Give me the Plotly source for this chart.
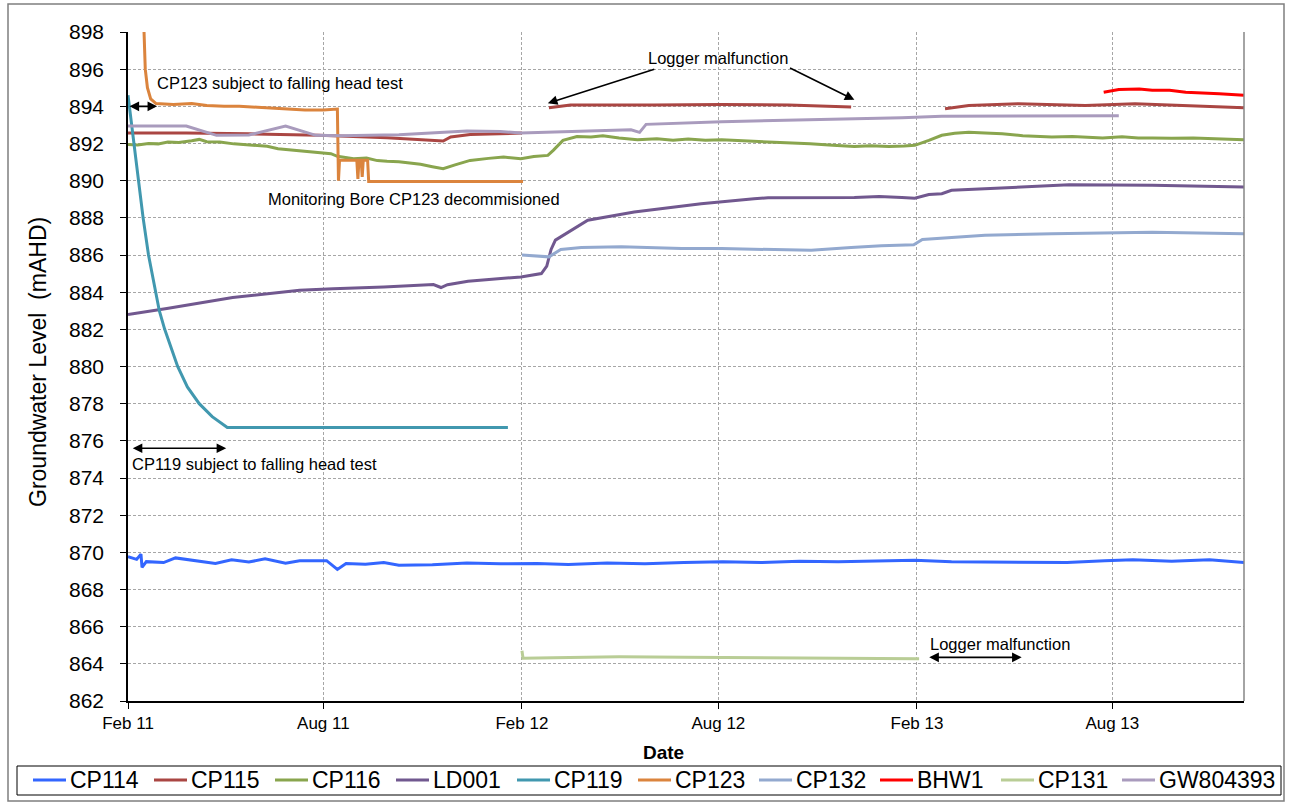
import plotly.graph_objects as go

# ---- Groundwater level records (mAHD) ----
cp114_dates = ["2011-02-01", "2011-02-09", "2011-02-13", "2011-02-14", "2011-02-18", "2011-03-06",
               "2011-03-17", "2011-04-08", "2011-04-23", "2011-05-08", "2011-05-24", "2011-06-08",
               "2011-06-27", "2011-07-10", "2011-08-04", "2011-08-14", "2011-08-22", "2011-09-09",
               "2011-09-26", "2011-10-10", "2011-11-10", "2011-12-12", "2012-01-12", "2012-02-15",
               "2012-03-15", "2012-04-20", "2012-05-25", "2012-06-30", "2012-08-05", "2012-09-10",
               "2012-10-15", "2012-11-20", "2012-12-25", "2013-01-30", "2013-03-05", "2013-04-10",
               "2013-05-15", "2013-06-20", "2013-07-25", "2013-08-20", "2013-09-25", "2013-10-30",
               "2013-12-01"]
cp114_level = [869.76, 869.62, 869.90, 869.19, 869.50, 869.45,
               869.70, 869.50, 869.40, 869.60, 869.48, 869.65,
               869.42, 869.55, 869.55, 869.08, 869.40, 869.36,
               869.45, 869.30, 869.33, 869.42, 869.38, 869.40,
               869.35, 869.42, 869.38, 869.45, 869.50, 869.45,
               869.52, 869.50, 869.55, 869.58, 869.50, 869.48,
               869.50, 869.45, 869.55, 869.60, 869.52, 869.60,
               869.45]

cp115_dates = ["2011-02-01", "2011-03-27", "2011-05-24", "2011-07-28", "2011-09-29", "2011-10-30",
               "2011-11-20", "2011-11-27", "2011-12-15", "2012-02-01",
               "2012-02-10",
               "2012-02-26", "2012-03-17", "2012-06-02", "2012-08-04", "2012-10-05", "2012-12-02",
               "2013-01-15",
               "2013-02-27", "2013-03-21", "2013-05-06", "2013-07-07", "2013-08-22", "2013-10-08",
               "2013-12-01"]
cp115_level = [892.56, 892.57, 892.52, 892.45, 892.31, 892.22,
               892.13, 892.35, 892.49, 892.56,
               None,
               893.92, 894.07, 894.07, 894.10, 894.07, 893.96,
               None,
               893.87, 894.05, 894.14, 894.05, 894.14, 894.03,
               893.93]

cp116_dates = ["2011-02-01", "2011-02-10", "2011-02-20", "2011-03-01", "2011-03-10", "2011-03-20",
               "2011-04-01", "2011-04-08", "2011-04-15", "2011-04-27", "2011-05-10", "2011-05-28",
               "2011-06-10", "2011-06-20", "2011-06-28", "2011-07-10", "2011-07-20", "2011-07-29",
               "2011-08-08", "2011-08-14", "2011-08-22", "2011-08-29", "2011-09-10", "2011-09-20",
               "2011-09-29", "2011-10-10", "2011-10-20", "2011-10-30", "2011-11-10", "2011-11-20",
               "2011-12-01", "2011-12-15", "2012-01-01", "2012-01-15", "2012-01-31", "2012-02-12",
               "2012-02-25", "2012-03-01", "2012-03-10", "2012-03-23", "2012-04-05", "2012-04-16",
               "2012-05-01", "2012-05-18", "2012-06-05", "2012-06-20", "2012-07-04", "2012-07-20",
               "2012-08-04", "2012-08-25", "2012-09-15", "2012-10-05", "2012-10-25", "2012-11-15",
               "2012-12-05", "2012-12-20", "2013-01-06", "2013-01-20", "2013-01-30", "2013-02-12",
               "2013-02-24", "2013-03-08", "2013-03-21", "2013-04-05", "2013-04-21", "2013-05-10",
               "2013-05-25", "2013-06-06", "2013-06-25", "2013-07-10", "2013-07-23", "2013-08-10",
               "2013-08-25", "2013-09-07", "2013-09-25", "2013-10-15", "2013-11-05", "2013-12-01"]
cp116_level = [891.95, 891.92, 892.00, 891.98, 892.08, 892.05,
               892.15, 892.22, 892.10, 892.08, 891.98, 891.90,
               891.85, 891.72, 891.67, 891.62, 891.55, 891.49,
               891.45, 891.31, 891.25, 891.18, 891.22, 891.08,
               891.04, 891.02, 890.95, 890.88, 890.75, 890.64,
               890.85, 891.09, 891.20, 891.27, 891.18, 891.30,
               891.36, 891.63, 892.17, 892.38, 892.35, 892.42,
               892.30, 892.20, 892.25, 892.18, 892.24, 892.18,
               892.20, 892.15, 892.08, 892.02, 891.98, 891.90,
               891.84, 891.88, 891.84, 891.86, 891.90, 892.17,
               892.44, 892.55, 892.61, 892.56, 892.52, 892.42,
               892.38, 892.35, 892.38, 892.32, 892.30, 892.36,
               892.30, 892.30, 892.28, 892.30, 892.25, 892.20]

ld001_dates = ["2011-02-01", "2011-03-09", "2011-05-09", "2011-07-10", "2011-08-10", "2011-09-26",
               "2011-11-11", "2011-11-18", "2011-11-24", "2011-12-13", "2012-01-31", "2012-02-19",
               "2012-02-24", "2012-02-28", "2012-03-03", "2012-03-17", "2012-04-02", "2012-05-15",
               "2012-07-16", "2012-09-03", "2012-09-16", "2012-12-05", "2012-12-28", "2013-01-18",
               "2013-01-30", "2013-02-12", "2013-02-24", "2013-03-05", "2013-05-06", "2013-06-22",
               "2013-09-07", "2013-12-01"]
ld001_level = [882.80, 883.12, 883.71, 884.10, 884.19, 884.28,
               884.41, 884.25, 884.40, 884.59, 884.82, 885.00,
               885.40, 886.30, 886.80, 887.30, 887.87, 888.31,
               888.76, 889.03, 889.08, 889.09, 889.15, 889.10,
               889.05, 889.25, 889.30, 889.48, 889.66, 889.78,
               889.75, 889.66]

cp119_dates = ["2011-02-01", "2011-02-04", "2011-02-07", "2011-02-11", "2011-02-15", "2011-02-20",
               "2011-02-26", "2011-03-02", "2011-03-07", "2011-03-19", "2011-03-28", "2011-04-08",
               "2011-04-20", "2011-05-04", "2011-08-01", "2011-10-01", "2011-12-01", "2012-01-19"]
cp119_level = [894.60, 893.20, 891.50, 889.80, 888.00, 886.00,
               884.10, 883.00, 882.00, 880.00, 878.90, 878.00,
               877.30, 876.72, 876.72, 876.72, 876.74, 876.72]

cp123_dates = ["2011-02-15", "2011-02-17", "2011-02-19", "2011-02-22", "2011-02-27", "2011-03-15",
               "2011-04-01", "2011-04-15", "2011-05-01", "2011-05-15", "2011-06-01", "2011-06-15",
               "2011-07-01", "2011-07-15", "2011-08-01", "2011-08-14", "2011-08-15", "2011-08-16",
               "2011-09-01", "2011-09-02", "2011-09-03", "2011-09-05", "2011-09-06", "2011-09-07",
               "2011-09-11", "2011-09-12", "2011-11-01", "2012-01-01", "2012-02-02"]
cp123_level = [899.50, 896.00, 895.00, 894.40, 894.15, 894.10,
               894.15, 894.05, 894.00, 894.00, 893.95, 893.90,
               893.85, 893.80, 893.80, 893.85, 890.00, 891.10,
               891.10, 890.10, 891.10, 891.10, 890.20, 891.10,
               891.10, 889.95, 889.95, 889.97, 889.95]

cp132_dates = ["2012-02-01", "2012-02-14", "2012-02-26", "2012-03-08", "2012-03-27", "2012-05-03",
               "2012-06-28", "2012-08-04", "2012-09-19", "2012-10-26", "2012-12-02", "2012-12-30",
               "2013-01-29", "2013-02-06", "2013-04-05", "2013-06-06", "2013-09-07", "2013-10-24",
               "2013-12-01"]
cp132_level = [886.00, 885.95, 885.90, 886.30, 886.40, 886.45,
               886.35, 886.35, 886.30, 886.25, 886.40, 886.50,
               886.55, 886.83, 887.06, 887.15, 887.22, 887.20,
               887.15]

bhw1_dates = ["2013-07-24", "2013-08-07", "2013-08-26", "2013-09-07", "2013-09-23", "2013-10-08",
              "2013-11-08", "2013-12-01"]
bhw1_level = [894.76, 894.91, 894.93, 894.87, 894.87, 894.76, 894.68, 894.59]

cp131_dates = ["2012-02-01", "2012-02-02", "2012-03-01", "2012-05-01", "2012-07-01", "2012-09-01",
               "2012-11-01", "2013-01-01", "2013-02-03"]
cp131_level = [864.70, 864.30, 864.33, 864.38, 864.36, 864.33, 864.31, 864.29, 864.28]

gw804393_dates = ["2011-02-01", "2011-03-27", "2011-04-24", "2011-05-24", "2011-06-27", "2011-07-25",
                  "2011-08-17", "2011-10-10", "2011-12-12", "2012-01-12", "2012-01-31", "2012-05-12",
                  "2012-05-20", "2012-05-26", "2012-08-04", "2012-11-05", "2013-01-18", "2013-02-24",
                  "2013-08-07"]
gw804393_level = [892.94, 892.94, 892.44, 892.46, 892.94, 892.44,
                  892.42, 892.47, 892.67, 892.65, 892.56, 892.74,
                  892.60, 893.03, 893.17, 893.28, 893.39, 893.47,
                  893.50]

series = [
    ("CP114", cp114_dates, cp114_level, "#3366FF"),
    ("CP115", cp115_dates, cp115_level, "#AA4643"),
    ("CP116", cp116_dates, cp116_level, "#89A54E"),
    ("LD001", ld001_dates, ld001_level, "#71588F"),
    ("CP119", cp119_dates, cp119_level, "#4198AF"),
    ("CP123", cp123_dates, cp123_level, "#DB843D"),
    ("CP132", cp132_dates, cp132_level, "#93A9CF"),
    ("BHW1", bhw1_dates, bhw1_level, "#FF0000"),
    ("CP131", cp131_dates, cp131_level, "#B9CD96"),
    ("GW804393", gw804393_dates, gw804393_level, "#A99BBD"),
]

FONT = "Arial, Liberation Sans, sans-serif"
W, H = 1289, 802
L, R, T, B = 128, 45, 32, 101
PW, PH = W - L - R, H - T - B


def px(xpix):
    return (xpix - L) / PW


def py(ypix):
    return (H - B - ypix) / PH


fig = go.Figure()
for name, d, v, c in series:
    fig.add_trace(go.Scatter(x=d, y=v, name=name, mode="lines", showlegend=False,
                             line=dict(color=c, width=3), connectgaps=False))

grid = dict(showgrid=True, gridcolor="#A6A6A6", gridwidth=1, griddash="3px,2px")
fig.update_xaxes(type="date", range=["2011-02-01", "2013-12-01"], tick0="2011-02-01",
                 dtick="M6", tickformat="%b %y", ticks="outside", ticklen=6,
                 tickcolor="#000", showline=True, linecolor="#000", linewidth=1.5,
                 tickfont=dict(family=FONT, size=17, color="#000"), zeroline=False, **grid)
fig.update_yaxes(range=[862, 898], dtick=2, tick0=862, ticks="outside", ticklen=6,
                 tickcolor="#000", showline=True, linecolor="#000", linewidth=1.5,
                 ticklabelstandoff=12,
                 tickfont=dict(family=FONT, size=21, color="#000"), zeroline=False, **grid)

arrow = dict(showarrow=True, arrowcolor="#000", arrowwidth=1.6, arrowhead=2,
             arrowsize=1.2, xref="x", yref="y", axref="x", ayref="y", text="")
txt = dict(showarrow=False, xref="x", yref="y", font=dict(family=FONT, size=16.5, color="#000"))

annotations = [
    # double arrows marking test / malfunction periods
    dict(x="2011-02-28", y=894.0, ax="2011-02-01", ay=894.0, arrowside="end+start",
         startarrowhead=2, startarrowsize=1.2, **arrow),
    dict(x="2011-05-03", y=875.6, ax="2011-02-04", ay=875.6, arrowside="end+start",
         startarrowhead=2, startarrowsize=1.2, **arrow),
    dict(x="2013-05-09", y=864.35, ax="2013-02-11", ay=864.35, arrowside="end+start",
         startarrowhead=2, startarrowsize=1.2, **arrow),
    # pointers from the logger label to the CP115 gap ends
    dict(x="2012-02-25", y=894.17, ax="2012-06-04", ay=896.02, **arrow),
    dict(x="2012-12-05", y=894.35, ax="2012-10-05", ay=896.10, **arrow),
    dict(x="2011-02-26", y=895.23, text="CP123 subject to falling head test", xanchor="left", **txt),
    dict(x="2011-06-09", y=889.0, text="Monitoring Bore CP123 decommisioned", xanchor="left", **txt),
    dict(x="2012-08-01", y=896.58, text="Logger malfunction", xanchor="center", **txt),
    dict(x="2011-02-03", y=874.73, text="CP119 subject to falling head test", xanchor="left", **txt),
    dict(x="2013-02-11", y=865.07, text="Logger malfunction", xanchor="left", **txt),
    # axis titles
    dict(x=px(663), y=py(752), xref="paper", yref="paper", showarrow=False, text="<b>Date</b>",
         xanchor="center", yanchor="middle", font=dict(family=FONT, size=19, color="#000")),
    dict(x=px(38), y=py(362), xref="paper", yref="paper", showarrow=False, textangle=-90,
         xanchor="center", yanchor="middle",
         text="Groundwater Level  (mAHD)", font=dict(family=FONT, size=23, color="#000")),
]

shapes = [
    # right edge of plot area
    dict(type="line", xref="paper", yref="paper", x0=1, x1=1, y0=0, y1=1,
         line=dict(color="#868686", width=1.5)),
    # chart frame
    dict(type="rect", xref="paper", yref="paper", x0=px(8), x1=px(1284), y0=py(801), y1=py(4),
         line=dict(color="#7F7F7F", width=1.5), fillcolor="rgba(0,0,0,0)", layer="below"),
    # legend frame
    dict(type="rect", xref="paper", yref="paper", x0=px(17), x1=px(1281), y0=py(795), y1=py(766),
         line=dict(color="#000", width=1), fillcolor="rgba(0,0,0,0)"),
]

# legend row below the chart: one line sample and name per series
LEG_X0, LEG_STEP, LEG_Y, SAMPLE = 33, 121, 780, 33
for i, (name, _, _, c) in enumerate(series):
    x0 = LEG_X0 + i * LEG_STEP
    shapes.append(dict(type="line", xref="paper", yref="paper",
                       x0=px(x0), x1=px(x0 + SAMPLE), y0=py(LEG_Y), y1=py(LEG_Y),
                       line=dict(color=c, width=3)))
    annotations.append(dict(x=px(x0 + SAMPLE + 2), y=py(LEG_Y), xref="paper", yref="paper",
                            showarrow=False, text=name, xanchor="left", yanchor="middle",
                            font=dict(family=FONT, size=23, color="#000")))

fig.update_layout(
    width=W, height=H, autosize=False,
    margin=dict(l=L, r=R, t=T, b=B),
    paper_bgcolor="#FFFFFF", plot_bgcolor="#FFFFFF",
    font=dict(family=FONT, color="#000"),
    annotations=annotations, shapes=shapes,
    showlegend=False,
)

fig.write_html("out.html")
